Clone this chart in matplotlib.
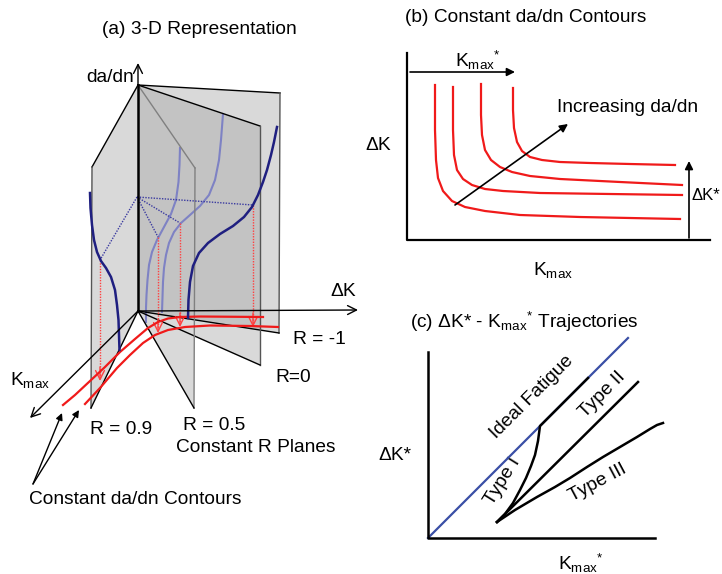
import numpy as np
import matplotlib.pyplot as plt
from matplotlib.patches import Polygon

plt.rcParams['font.family'] = ['Liberation Sans', 'DejaVu Sans']
plt.rcParams['mathtext.fontset'] = 'custom'
plt.rcParams['mathtext.rm'] = 'Liberation Sans'
plt.rcParams['mathtext.it'] = 'Liberation Sans:italic'
plt.rcParams['mathtext.bf'] = 'Liberation Sans:bold'

KMAX = r'K$_{\mathrm{max}}$'
KMAX_S = r'K$_{\mathrm{max}}{}^{*}$'

# ---- panel (a): 3-D sketch, pixel coordinates
origin = (138, 311)
axis_top = (138, 85)
plane_m1 = [(138, 85), (280, 93), (279, 333), (138, 311)]
plane_0 = [(138, 85), (260, 126), (260, 365), (138, 311)]
plane_05 = [(138, 85), (195, 168), (194, 408), (138, 311)]
plane_09 = [(138, 85), (92, 167), (91, 408), (138, 311)]
plane_edge_cols = [['k', '#555555', 'k'], ['k', '#555555', 'k'],
                   ['#808080', '#808080', 'k'], ['k', '#555555', 'k']]

curve_m1_x = [188, 188.5, 190, 193, 199, 208, 220, 233, 244, 252, 258, 263, 267, 271, 274, 277]
curve_m1_y = [318, 300, 282, 266, 253, 243, 234, 226, 217, 207, 195, 182, 170, 155, 142, 127]
curve_09_x = [90, 90.5, 92, 94, 97, 101, 106, 111, 115, 117, 118.5, 119, 119.5]
curve_09_y = [193, 208, 225, 240, 252, 261, 268, 277, 290, 305, 320, 335, 350]
curve_0_x = [223, 221, 219, 215, 209, 200, 190, 181, 174, 169, 166, 164, 163, 162.5, 162]
curve_0_y = [114, 140, 160, 180, 195, 206, 215, 223, 232, 243, 255, 268, 282, 297, 312]
curve_05_x = [180, 179.5, 178.5, 176, 171, 164, 157, 152, 149, 147.5, 146.5, 146, 146]
curve_05_y = [148, 165, 182, 200, 214, 227, 240, 252, 265, 280, 295, 308, 322]

contour1_x = [63, 75, 90, 105, 120, 135, 148, 158, 168, 180, 200, 263]
contour1_y = [405, 395, 381, 367, 352, 339, 328, 322, 318.5, 317, 316.5, 317]
contour2_x = [85, 100, 117, 130, 143, 155, 168, 185, 210, 250, 278]
contour2_y = [404, 388, 368, 355, 343, 335, 330, 327, 325.5, 326, 327]

level_point = (137, 197)
proj_x = [253, 180, 158, 100]
proj_y = [205, 223, 237, 260]
drop_y = [327, 327, 333, 381]

# ---- panel (b)
b_curve_x = [
    [435, 435, 436, 438, 443, 452, 465, 485, 520, 580, 680],
    [453, 453, 454, 457, 463, 472, 485, 503, 540, 610, 682],
    [481, 481, 482, 485, 491, 500, 512, 530, 560, 620, 682],
    [513, 513, 514, 517, 522, 530, 542, 560, 590, 630, 675],
]
b_curve_y = [
    [85, 130, 160, 178, 191, 201, 207, 211, 215, 217, 219],
    [87, 130, 155, 170, 179, 185, 189, 191, 193, 194, 195],
    [84, 115, 135, 150, 160, 167, 172, 176, 179, 182, 185],
    [88, 110, 128, 142, 151, 157, 160, 162, 163, 164, 165],
]

# ---- panel (c)
ideal_x = [428, 628]
ideal_y = [538, 338]
type1_x = [497, 505, 513, 520, 526, 531, 535, 538, 540, 588]
type1_y = [522, 514, 503, 490, 478, 466, 455, 441, 426, 378]
type2_x = [497, 638]
type2_y = [522, 382]
type3_x = [497, 515, 537, 555, 570, 587, 603, 620, 637, 650, 657, 663]
type3_y = [522, 510, 497, 487, 478, 467, 457, 447, 437, 429, 425, 423]

NAVY = '#1f1f80'
LIGHT_NAVY = '#7e82c4'
RED = '#f01a1a'
BLUE = '#3a4fa6'

fig = plt.figure(figsize=(7.22, 5.74), dpi=100)
ax = fig.add_axes([0, 0, 1, 1])
ax.set_xlim(0, 722)
ax.set_ylim(574, 0)
ax.axis('off')


def arrow(p0, p1, style='->', color='k', lw=1.0, ms=14, z=6):
    ax.annotate('', xy=p1, xytext=p0,
                arrowprops=dict(arrowstyle=style, color=color, lw=lw,
                                mutation_scale=ms, shrinkA=0, shrinkB=0),
                zorder=z)


# planes
planes = [plane_m1, plane_0, plane_05, plane_09]
for pl in planes:
    ax.add_patch(Polygon(pl, closed=True, facecolor='#d9d9d9', edgecolor='none', zorder=1))
back = Polygon(plane_m1, closed=True, facecolor='none', edgecolor='none')
ax.add_patch(back)
overlap = Polygon(plane_0, closed=True, facecolor='#c3c3c3', edgecolor='none', zorder=1.5)
ax.add_patch(overlap)
overlap.set_clip_path(back)

# curves lying on the back planes
ax.plot(curve_0_x, curve_0_y, color=LIGHT_NAVY, lw=1.5, zorder=2)
ax.plot(curve_05_x, curve_05_y, color=LIGHT_NAVY, lw=1.5, zorder=2)

for pl, cols in zip(planes, plane_edge_cols):
    for k in range(3):
        ax.plot([pl[k][0], pl[k + 1][0]], [pl[k][1], pl[k + 1][1]],
                color=cols[k], lw=1.0, zorder=3)

# dotted projections
for x, y, yd in zip(proj_x, proj_y, drop_y):
    ax.plot([level_point[0], x], [level_point[1], y], color='#3a3aa0', lw=1.0,
            ls=(0, (1, 1)), zorder=3.5)
    ax.plot([x, x], [y, yd - 3], color='#ff4040', lw=1.0, ls=(0, (1, 1)), zorder=3.5)
    arrow((x, yd - 14), (x, yd), style='->', color='#ff4040', lw=1.0, ms=16, z=4)

ax.plot(contour1_x, contour1_y, color=RED, lw=1.6, zorder=4)
ax.plot(contour2_x, contour2_y, color=RED, lw=1.6, zorder=4)
ax.plot(curve_m1_x, curve_m1_y, color=NAVY, lw=1.8, zorder=4.5)
ax.plot(curve_09_x, curve_09_y, color=NAVY, lw=1.8, zorder=4.5)

# 3-D axes
ax.plot([origin[0], axis_top[0]], [origin[1], axis_top[1]], color='k', lw=1.8, zorder=5)
arrow(axis_top, (138, 63), lw=1.0, ms=16)
arrow(origin, (358, 310), lw=1.0, ms=16)
arrow(origin, (30, 418), lw=1.0, ms=16)
arrow((33, 484), (62, 413), style='-|>', lw=1.0, ms=10)
arrow((33, 484), (79, 410), style='-|>', lw=1.0, ms=10)

fs = 13.8
ax.text(102, 30, '(a) 3-D Representation', fontsize=fs, va='center')
ax.text(134, 78, 'da/dn', fontsize=fs, va='center', ha='right')
ax.text(330, 292, 'ΔK', fontsize=fs, va='center')
ax.text(10, 380, KMAX, fontsize=fs, va='center')
ax.text(293, 339, 'R = -1', fontsize=fs, va='center')
ax.text(275, 377, 'R=0', fontsize=fs, va='center')
ax.text(90, 430, 'R = 0.9', fontsize=fs, va='center')
ax.text(183, 425, 'R = 0.5', fontsize=fs, va='center')
ax.text(176, 448, 'Constant R Planes', fontsize=fs, va='center')
ax.text(29, 500, 'Constant da/dn Contours', fontsize=fs, va='center')

# ---- panel (b) drawing
ax.plot([407, 407, 710], [53, 240, 240], color='k', lw=1.6, zorder=5)
for xs, ys in zip(b_curve_x, b_curve_y):
    ax.plot(xs, ys, color=RED, lw=1.6, zorder=4)
arrow((410, 72), (515, 72), style='-|>', lw=1.2, ms=12)
arrow((455, 205), (568, 124), style='-|>', lw=1.2, ms=12)
arrow((689, 238), (689, 161), style='-|>', lw=1.2, ms=12)
ax.text(405, 18, '(b) Constant da/dn Contours', fontsize=fs, va='center')
ax.text(455, 60, KMAX_S, fontsize=fs, va='center')
ax.text(557, 107, 'Increasing da/dn', fontsize=fs, va='center')
ax.text(365, 146, 'ΔK', fontsize=fs, va='center')
ax.text(692, 196, 'ΔK*', fontsize=12, va='center')
ax.text(533, 270, KMAX, fontsize=fs, va='center')

# ---- panel (c) drawing
ax.plot([428, 428, 655], [352, 538, 538], color='k', lw=1.8, zorder=5)
ax.plot(ideal_x, ideal_y, color=BLUE, lw=1.6, zorder=4)
ax.plot(type1_x, type1_y, color='k', lw=1.8, zorder=4.5)
ax.plot(type2_x, type2_y, color='k', lw=1.8, zorder=4.5)
ax.plot(type3_x, type3_y, color='k', lw=1.8, zorder=4.5)
ax.text(410, 322, '(c) ΔK* - ' + KMAX_S + ' Trajectories', fontsize=fs, va='center')
ax.text(378, 455, 'ΔK*', fontsize=fs, va='center')
ax.text(558, 563, KMAX_S, fontsize=fs, va='center')
ax.text(532, 397, 'Ideal Fatigue', fontsize=fs, rotation=45, ha='center', va='center',
        rotation_mode='anchor')
ax.text(602, 395, 'Type II', fontsize=fs, rotation=45, ha='center', va='center',
        rotation_mode='anchor')
ax.text(503, 481, 'Type I', fontsize=fs, rotation=58, ha='center', va='center',
        rotation_mode='anchor')
ax.text(598, 483, 'Type III', fontsize=fs, rotation=28, ha='center', va='center',
        rotation_mode='anchor')

fig.savefig('out.png', dpi=100)
